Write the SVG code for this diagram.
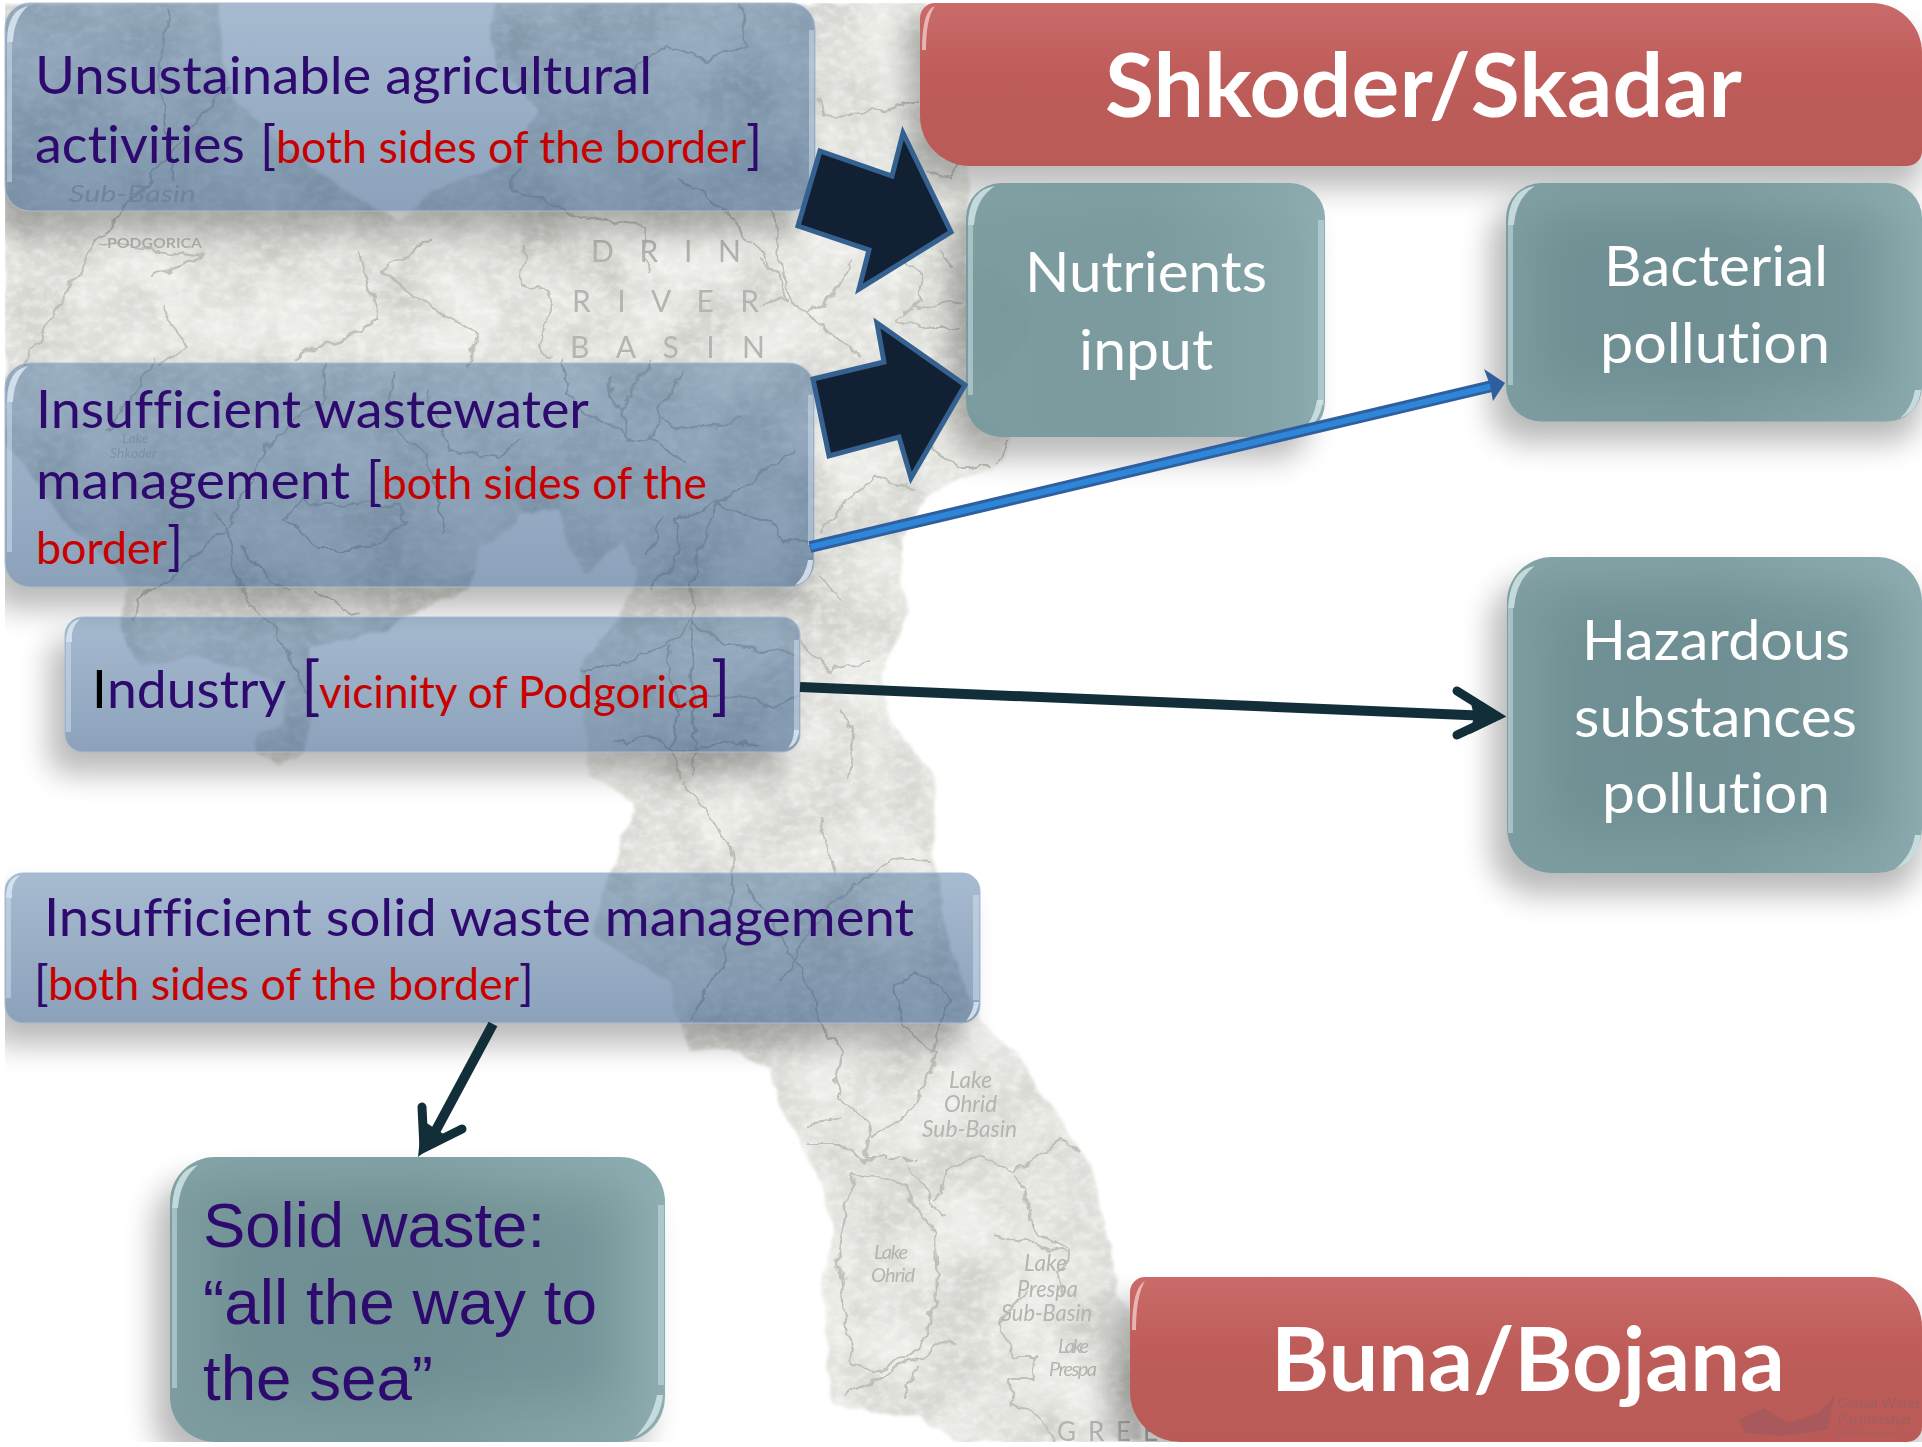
<svg xmlns="http://www.w3.org/2000/svg" width="1922" height="1447" viewBox="0 0 1922 1447">
<style>
text{font-variant-ligatures:none}
.t{font-family:Lato,"Open Sans","Liberation Sans",sans-serif}
.p{fill:#2e0a6e;font-size:53px}
.r{fill:#c80000;font-size:45px}
.w{fill:#fff;font-size:56px}
.h{fill:#fff;font-size:88px;font-weight:700}
.a{font-family:"Liberation Sans",Arial,sans-serif;fill:#2e0a6e;font-size:63px}
.riv{fill:none;stroke:#b9b9b4;stroke-width:2.2;stroke-linejoin:round;stroke-linecap:round;opacity:.85}
.m{font-family:Lato,"Liberation Sans",sans-serif;fill:#b4b4b0}
.mi{font-style:italic;font-size:24px;fill:#c2c2be}
.blue{fill:url(#gb);stroke:#a9bad2;stroke-width:1}
.teal{fill:url(#gt)}
.red{fill:url(#gr)}
.sh{fill:#000;opacity:.27;filter:url(#bl)}
.inner{fill:#5f8085;opacity:.42;filter:url(#bl2)}
.glb{fill:#dbe7f4;opacity:.85}
.glt{fill:#d5e7ea;opacity:.8}
.stb{fill:#d3e1f0;opacity:.5}
.stt{fill:#c9e0e3;opacity:.55}
.blk{fill:#122033;stroke:#34618f;stroke-width:5;stroke-linejoin:miter;stroke-miterlimit:8}
.dk{fill:none;stroke:#122e38;stroke-width:10;stroke-linecap:butt}
.bar{fill:none;stroke:#122e38;stroke-width:9;stroke-linecap:round}
</style>
<defs>
<linearGradient id="gb" x1="0" y1="0" x2="0" y2="1"><stop offset="0" stop-color="#104680" stop-opacity=".37"/><stop offset="1" stop-color="#0e3d70" stop-opacity=".48"/></linearGradient>
<linearGradient id="gt" x1="0" y1="0" x2="1" y2="0"><stop offset="0" stop-color="#76999d" stop-opacity=".9"/><stop offset=".5" stop-color="#74979b" stop-opacity=".9"/><stop offset="1" stop-color="#85a7ab" stop-opacity=".93"/></linearGradient>
<linearGradient id="gr" x1="0" y1="0" x2="0" y2="1"><stop offset="0" stop-color="#cb6b69"/><stop offset=".45" stop-color="#bd5c59"/><stop offset="1" stop-color="#ba5b58"/></linearGradient>
<filter id="bl" x="-20%" y="-30%" width="140%" height="160%"><feGaussianBlur stdDeviation="15"/></filter>
<filter id="bl2" x="-30%" y="-30%" width="160%" height="160%"><feGaussianBlur stdDeviation="24"/></filter>
<filter id="wob" x="-3%" y="-3%" width="106%" height="106%"><feTurbulence type="fractalNoise" baseFrequency=".045" numOctaves="3" seed="5" result="n"/><feDisplacementMap in="SourceGraphic" in2="n" scale="16" xChannelSelector="R" yChannelSelector="G"/><feGaussianBlur stdDeviation=".7"/></filter>
<filter id="lab" x="-10%" y="-30%" width="120%" height="160%"><feGaussianBlur stdDeviation=".7"/></filter>
<filter id="mapf" x="-2%" y="-2%" width="104%" height="104%" color-interpolation-filters="sRGB">
<feTurbulence type="fractalNoise" baseFrequency=".04" numOctaves="3" seed="3" result="n"/>
<feDisplacementMap in="SourceGraphic" in2="n" scale="10" xChannelSelector="R" yChannelSelector="G" result="d"/>
<feGaussianBlur in="d" stdDeviation="1.5" result="s"/>
<feTurbulence type="fractalNoise" baseFrequency=".014" numOctaves="4" seed="7"/>
<feColorMatrix type="matrix" values="0 0 0 0 .6 0 0 0 0 .6 0 0 0 0 .58 .7 0 0 0 -.22" result="m"/>
<feTurbulence type="fractalNoise" baseFrequency=".09 .12" numOctaves="3" seed="11"/>
<feColorMatrix type="matrix" values="0 0 0 0 1 0 0 0 0 1 0 0 0 0 .99 1 0 0 0 -.4" result="w"/>
<feMerge result="tex"><feMergeNode in="m"/><feMergeNode in="w"/></feMerge>
<feComposite in="tex" in2="s" operator="in" result="t2"/>
<feMerge><feMergeNode in="s"/><feMergeNode in="t2"/></feMerge>
</filter>
<path id="silp" d="M5,3 L220,3 L222,60 L235,100 L290,150 L350,195 L398,222 L420,200 L450,185 L500,165 L520,140 L540,110 L500,70 L490,30 L495,3 L925,3 L968,100 L968,262 L1000,272 L1033,307 L1027,340 L1000,370 L973,393 L970,410 L985,425 L1010,437 L1008,455 L993,467 L960,480 L927,497 L923,503 L903,537 L900,573 L908,613 L893,643 L882,670 L890,720 L910,747 L935,780 L933,857 L950,950 L978,1019 L1017,1053 L1038,1088 L1067,1130 L1089,1165 L1103,1216 L1117,1293 L1135,1320 L1140,1442 L960,1442 L917,1417 L831,1406 L828,1348 L821,1280 L835,1233 L821,1186 L803,1147 L781,1113 L771,1070 L731,1049 L689,1051 L667,981 L592,934 L606,883 L631,818 L631,801 L596,780 L590,777 L587,727 L580,667 L620,617 L637,580 L623,540 L603,557 L587,573 L570,553 L557,510 L523,513 L517,523 L480,547 L470,590 L400,617 L387,630 L310,647 L310,727 L303,753 L277,763 L257,750 L257,733 L283,727 L283,693 L267,677 L200,657 L143,667 L125,645 L120,620 L127,593 L130,587 L110,560 L67,527 L17,457 L5,440 Z"/>
<clipPath id="page"><rect x="5" y="3" width="1917" height="1439"/></clipPath>
<clipPath id="sil"><use href="#silp"/></clipPath>
<clipPath id="xb1"><path clip-rule="evenodd" d="M0,0H1922V1447H0Z M30,3H790A25,25 0 0 1 815,28V186A25,25 0 0 1 790,211H30A25,25 0 0 1 5,186V28A25,25 0 0 1 30,3Z"/></clipPath>
<clipPath id="xb2"><path clip-rule="evenodd" d="M0,0H1922V1447H0Z M30,363H789A25,25 0 0 1 814,388V562A25,25 0 0 1 789,587H30A25,25 0 0 1 5,562V388A25,25 0 0 1 30,363Z"/></clipPath>
<clipPath id="xb3"><path clip-rule="evenodd" d="M0,0H1922V1447H0Z M83,617H782A18,18 0 0 1 800,635V734A18,18 0 0 1 782,752H83A18,18 0 0 1 65,734V635A18,18 0 0 1 83,617Z"/></clipPath>
<clipPath id="xb4"><path clip-rule="evenodd" d="M0,0H1922V1447H0Z M23,873H962A18,18 0 0 1 980,891V1005A18,18 0 0 1 962,1023H23A18,18 0 0 1 5,1005V891A18,18 0 0 1 23,873Z"/></clipPath>
</defs>
<rect width="1922" height="1447" fill="#fff"/>
<g id="map">
<g clip-path="url(#page)"><use href="#silp" fill="#ecece8" filter="url(#mapf)"/></g>
<g clip-path="url(#sil)">
<g filter="url(#wob)">
<path d="M853,1175 L881,1177 L903,1190 L921,1212 L935,1233 L937,1293 L924,1336 L906,1359 L874,1372 L853,1365 L846,1327 L839,1250 Z" fill="#f0f0ec" class="riv"/>
<g class="riv">
<path d="M685,780 L731,848 L735,878 L721,964 L692,1019"/>
<path d="M746,883 L810,989 L817,1019 L842,1053 L835,1079 L846,1105 L867,1122 L871,1143 L864,1160"/>
<path d="M872,1135 L910,1109 L931,1075 L935,1053 L903,1028 L896,985 L917,972 L953,1002 L931,1053"/>
<path d="M935,1199 L949,1169 L981,1156 L1014,1169 L1060,1143 L1089,1156"/>
<path d="M910,1165 L931,1203 L942,1212"/>
<path d="M856,1158 L917,1158" stroke-dasharray="8 4"/>
<path d="M1014,1173 L1035,1233 L1067,1250 L1060,1293"/>
<path d="M996,1233 L1024,1241 L1067,1254"/>
<path d="M1024,1293 L999,1323 L1010,1357 L1039,1357 L1031,1378 L1010,1378 L1014,1408 L1035,1412 L1053,1442"/>
<path d="M810,1122 L839,1118 M806,1143 L839,1143 L864,1160"/>
<path d="M953,1340 L910,1361 L846,1395 M906,1395 L917,1365"/>
<path d="M821,818 L835,874 M931,861 L892,857 L828,908 L780,980"/>
<path d="M693,777 L693,620 L693,567 L713,517 L720,503 L793,450"/>
<path d="M690,620 L667,643 L613,667 L580,667"/>
<path d="M693,623 L720,643 L797,653"/>
<path d="M667,647 L677,710 L673,743 L680,777"/>
<path d="M613,743 L647,737 L687,750 L727,737 L757,747"/>
<path d="M677,707 L720,693 L773,707 L797,700"/>
<path d="M720,500 L680,520 L680,553 L653,587"/>
<path d="M663,517 L647,553"/>
<path d="M720,503 L743,517 L773,523 L783,543 L805,540"/>
<path d="M653,360 L620,407 L630,437 L647,440 L683,460"/>
<path d="M607,377 L620,407 M683,370 L660,410 L647,440"/>
<path d="M660,417 L683,430 L740,420"/>
<path d="M630,437 L593,417 L563,393 L563,360"/>
<path d="M820,533 L847,503 L873,477 L893,483 L913,490"/>
<path d="M800,640 L830,670 L870,660 M840,710 L857,743 L847,777 M820,577 L840,600"/>
<path d="M283,520 L307,503 L400,507 L407,520 L367,547 L317,547 Z"/>
<path d="M213,513 L227,530 L160,587 L137,600 L133,620"/>
<path d="M227,530 L240,587 L253,610 L277,627 L283,647 L307,693"/>
<path d="M153,360 L140,387 L107,430"/>
<path d="M327,363 L323,400 L267,443 L230,527"/>
<path d="M290,590 L267,577 L240,547 M313,590 L333,600 L360,613"/>
<path d="M390,373 L393,420 L427,457 L443,533"/>
<path d="M427,393 L450,447 L500,457 L520,440"/>
<path d="M773,213 L783,277 L800,307 L833,337 L860,357"/>
<path d="M760,260 L777,273 L787,297 M853,260 L837,293 L810,313 M760,307 L790,297"/>
<path d="M907,263 L923,277 L923,300 L897,320 L927,327 L963,327 M907,310 L963,300 M937,250 L953,267"/>
<path d="M933,447 L960,467 L993,467 L1010,440"/>
<path d="M817,100 L827,117 L893,110 L917,100 M927,170 L950,177 L963,163"/>
<path d="M520,165 L508,184 L576,216 L643,225 L649,271"/>
<path d="M680,179 L735,220 L778,275"/>
<path d="M741,5 L747,46 L710,60 L667,46 L612,78"/>
<path d="M227,87 L98,239 L49,321 L24,367"/>
<path d="M153,275 L208,257 L104,243"/>
<path d="M429,239 L380,271 L447,317 L478,331 L465,367"/>
<path d="M527,243 L520,285 L551,294 L539,344 L551,358"/>
<path d="M361,253 L380,321 L294,358"/>
<path d="M165,303 L184,349 L159,367"/>
<path d="M171,9 L159,60 L172,180"/>
</g>
</g>
</g>
<g filter="url(#lab)">
<text class="m" x="107" y="248" font-size="13" font-weight="700" textLength="95" lengthAdjust="spacingAndGlyphs">PODGORICA</text>
<text class="m mi" x="69" y="202" textLength="127" style="fill:#c4c4c0" lengthAdjust="spacingAndGlyphs">Sub-Basin</text>
<text class="m" x="591" y="262" font-size="30" textLength="150">D R I N</text>
<text class="m" x="572" y="312" font-size="30" textLength="187">R I V E R</text>
<text class="m" x="570" y="358" font-size="30" textLength="195">B A S I N</text>
<text class="m" x="949" y="1088" font-size="24" font-style="italic" textLength="43" lengthAdjust="spacingAndGlyphs">Lake</text>
<text class="m" x="944" y="1112" font-size="24" font-style="italic" textLength="53" lengthAdjust="spacingAndGlyphs">Ohrid</text>
<text class="m" x="922" y="1137" font-size="24" font-style="italic" textLength="95" lengthAdjust="spacingAndGlyphs">Sub-Basin</text>
<text class="m" x="874" y="1259" font-size="20" font-style="italic" textLength="34">Lake</text>
<text class="m" x="871" y="1282" font-size="20" font-style="italic" textLength="44">Ohrid</text>
<text class="m" x="1024" y="1271" font-size="24" font-style="italic" textLength="43" lengthAdjust="spacingAndGlyphs">Lake</text>
<text class="m" x="1017" y="1297" font-size="24" font-style="italic" textLength="61" lengthAdjust="spacingAndGlyphs">Prespa</text>
<text class="m" x="1001" y="1321" font-size="24" font-style="italic" textLength="91" lengthAdjust="spacingAndGlyphs">Sub-Basin</text>
<text class="m" x="1058" y="1353" font-size="20" font-style="italic" textLength="31">Lake</text>
<text class="m" x="1049" y="1376" font-size="20" font-style="italic" textLength="48">Prespa</text>
<text class="m" x="1057" y="1441" font-size="26" textLength="101">G R E E</text>
<text class="m" x="122" y="443" font-size="14" font-style="italic" style="fill:#c8c8c4">Lake</text>
<text class="m" x="110" y="458" font-size="14" font-style="italic" style="fill:#c8c8c4">Shkoder</text>
</g>
</g>

<g id="node-shkoder">
<g clip-path="url(#page)"><path class="sh" d="M916,25H1872A50,50 0 0 1 1922,75V175A15,15 0 0 1 1907,188H956A50,50 0 0 1 906,138V30Z"/></g>
<path class="red" d="M935,3H1872A50,50 0 0 1 1922,53V151A15,15 0 0 1 1907,166H970A50,50 0 0 1 920,116V18A15,15 0 0 1 935,3Z"/>
<path class="glt" style="fill:#f0c9c7" d="M922,50 Q922,10 935,6 Q926,18 926,50Z"/>
<text class="t h" x="1105" y="117" textLength="637" lengthAdjust="spacingAndGlyphs">Shkoder/Skadar</text>
</g>

<g id="node-unsustainable">
<g clip-path="url(#xb1)"><g clip-path="url(#page)"><rect class="sh" x="-11" y="25" width="810" height="208" rx="25"/></g></g>
<rect class="blue" x="5" y="3" width="810" height="208" rx="25"/>
<path class="glb" d="M7,42 Q7,10 28,6 Q14,18 13,42Z"/>
<rect class="stb" x="7" y="42" width="5" height="140"/>
<rect class="stb" x="809" y="30" width="5" height="150"/>
<text class="t p" x="35" y="94" textLength="617" lengthAdjust="spacingAndGlyphs">Unsustainable agricultural</text>
<text class="t p" x="35" y="163" textLength="210" lengthAdjust="spacingAndGlyphs">activities</text>
<text class="t p" x="260" y="163">[</text>
<text class="t r" x="276" y="163" textLength="470" lengthAdjust="spacingAndGlyphs">both sides of the border</text>
<text class="t p" x="746" y="163">]</text>
</g>

<g id="node-wastewater">
<g clip-path="url(#xb2)"><g clip-path="url(#page)"><rect class="sh" x="-11" y="385" width="809" height="224" rx="25"/></g></g>
<rect class="blue" x="5" y="363" width="809" height="224" rx="25"/>
<path class="glb" d="M7,402 Q7,370 28,366 Q14,378 13,402Z"/>
<rect class="stb" x="7" y="402" width="5" height="150"/>
<rect class="stb" x="808" y="395" width="5" height="150"/>
<path class="glb" d="M813,560 Q812,582 795,585 Q806,575 808,560Z"/>
<text class="t p" x="36" y="428" textLength="553" lengthAdjust="spacingAndGlyphs">Insufficient wastewater</text>
<text class="t p" x="36" y="499" textLength="314" lengthAdjust="spacingAndGlyphs">management</text>
<text class="t p" x="366" y="499">[</text>
<text class="t r" x="382" y="499" textLength="325" lengthAdjust="spacingAndGlyphs">both sides of the</text>
<text class="t r" x="36" y="564" textLength="131" lengthAdjust="spacingAndGlyphs">border</text>
<text class="t p" x="167" y="564">]</text>
</g>

<g id="node-industry">
<g clip-path="url(#xb3)"><rect class="sh" x="49" y="639" width="735" height="135" rx="18"/></g>
<rect class="blue" x="65" y="617" width="735" height="135" rx="18"/>
<path class="glb" d="M66,642 Q66,622 80,619 Q70,628 72,642Z"/>
<rect class="stb" x="66" y="642" width="5" height="90"/>
<rect class="stb" x="794" y="640" width="5" height="95"/>
<path class="glb" d="M799,730 Q798,745 788,748 Q794,740 794,730Z"/>
<text class="t" x="92" y="708" style="font-size:53px;fill:#000">I</text>
<text class="t p" x="107" y="708" textLength="179" lengthAdjust="spacingAndGlyphs">ndustry</text>
<text class="t p" style="font-size:64px" x="301" y="708">[</text>
<text class="t r" x="319" y="708" textLength="391" lengthAdjust="spacingAndGlyphs">vicinity of Podgorica</text>
<text class="t p" style="font-size:64px" x="711" y="708">]</text>
</g>

<g id="node-solidmgmt">
<g clip-path="url(#xb4)"><g clip-path="url(#page)"><rect class="sh" x="-11" y="895" width="975" height="150" rx="18"/></g></g>
<rect class="blue" x="5" y="873" width="975" height="150" rx="18"/>
<path class="glb" d="M6,898 Q6,878 20,875 Q10,884 12,898Z"/>
<rect class="stb" x="6" y="898" width="5" height="100"/>
<rect class="stb" x="973" y="895" width="6" height="105"/>
<path class="glb" d="M979,1002 Q977,1018 966,1021 Q973,1012 974,1002Z"/>
<text class="t p" x="44" y="936" textLength="870" lengthAdjust="spacingAndGlyphs">Insufficient solid waste management</text>
<text class="t p" style="font-size:48px" x="34" y="1000">[</text>
<text class="t r" x="48" y="1000" textLength="471" lengthAdjust="spacingAndGlyphs">both sides of the border</text>
<text class="t p" style="font-size:48px" x="519" y="1000">]</text>
</g>

<g id="node-nutrients">
<rect class="sh" x="950" y="205" width="359" height="254" rx="35"/>
<rect class="teal" x="966" y="183" width="359" height="254" rx="35"/>
<path class="glt" d="M968,225 Q968,190 995,186 Q976,198 974,225Z"/>
<rect class="stt" x="968" y="225" width="5" height="170"/>
<rect class="stt" x="1318" y="220" width="6" height="185"/>
<path class="glt" d="M1323,400 Q1320,425 1300,434 Q1314,420 1317,400Z"/>
<text class="t w" x="1025" y="292" textLength="242" lengthAdjust="spacingAndGlyphs">Nutrients</text>
<text class="t w" x="1079" y="370" textLength="134" lengthAdjust="spacingAndGlyphs">input</text>
</g>

<g id="node-bacterial">
<rect class="sh" x="1490" y="205" width="432" height="238" rx="35"/>
<rect class="teal" x="1506" y="183" width="416" height="238.500" rx="35"/>
<rect class="inner" x="1540" y="215" width="340" height="175"/>
<path class="glt" d="M1508,225 Q1508,190 1535,186 Q1516,198 1514,225Z"/>
<rect class="stt" x="1508" y="225" width="5" height="160"/>
<path class="glt" d="M1921,390 Q1918,412 1900,418 Q1912,408 1915,390Z"/>
<text class="t w" x="1604" y="286" textLength="224" lengthAdjust="spacingAndGlyphs">Bacterial</text>
<text class="t w" x="1600" y="363" textLength="230" lengthAdjust="spacingAndGlyphs">pollution</text>
</g>

<g id="node-hazardous">
<rect class="sh" x="1491" y="579" width="431" height="316" rx="45"/>
<rect class="teal" x="1507" y="557" width="415" height="316" rx="45"/>
<rect class="inner" x="1550" y="600" width="330" height="235"/>
<path class="glt" d="M1508,608 Q1510,570 1535,566 Q1516,580 1514,608Z"/>
<rect class="stt" x="1508" y="608" width="5" height="225"/>
<path class="glt" d="M1921,835 Q1918,860 1895,869 Q1912,855 1915,835Z"/>
<text class="t w" x="1582" y="660" textLength="268" lengthAdjust="spacingAndGlyphs">Hazardous</text>
<text class="t w" x="1574" y="737" textLength="283" lengthAdjust="spacingAndGlyphs">substances</text>
<text class="t w" x="1602" y="813" textLength="228" lengthAdjust="spacingAndGlyphs">pollution</text>
</g>

<g id="node-solidwaste">
<g clip-path="url(#page)"><rect class="sh" x="154" y="1179" width="495" height="285" rx="45"/></g>
<rect class="teal" x="170" y="1157" width="495" height="285" rx="45"/>
<rect class="inner" x="215" y="1200" width="400" height="200"/>
<path class="glt" d="M172,1208 Q174,1170 198,1165 Q180,1180 178,1208Z"/>
<rect class="stt" x="172" y="1208" width="5" height="180"/>
<rect class="stt" x="658" y="1205" width="6" height="180"/>
<path class="glt" d="M663,1395 Q660,1425 635,1437 Q652,1420 657,1395Z"/>
<text class="a" x="203" y="1247" textLength="342" lengthAdjust="spacingAndGlyphs">Solid waste:</text>
<text class="a" x="203" y="1324" textLength="394" lengthAdjust="spacingAndGlyphs">“all the way to</text>
<text class="a" x="203" y="1400" textLength="230" lengthAdjust="spacingAndGlyphs">the sea”</text>
</g>

<g id="node-buna">
<g clip-path="url(#page)"><path class="sh" d="M1120,1300H1872A50,50 0 0 1 1922,1350V1460H1160A50,50 0 0 1 1110,1410V1310Z"/></g>
<path class="red" d="M1145,1277H1872A50,50 0 0 1 1922,1327V1427A15,15 0 0 1 1907,1442H1182A50,50 0 0 1 1130,1392V1292A15,15 0 0 1 1145,1277Z"/>
<path class="glt" style="fill:#f0c9c7" d="M1132,1330 Q1132,1288 1145,1281 Q1136,1296 1136,1330Z"/>
<text class="t h" x="1271" y="1391" textLength="514" lengthAdjust="spacingAndGlyphs">Buna/Bojana</text>
<path id="gwp-logo" d="M1739,1420 L1764,1408 L1788,1423 L1819,1413 L1834,1396 L1828,1430 L1782,1436 L1745,1433Z" fill="#a9595c"/>
<text class="t" x="1837" y="1408" style="font-size:14px;fill:#a35e5e" textLength="83" lengthAdjust="spacingAndGlyphs">Global Water</text>
<text class="t" x="1837" y="1424" style="font-size:14px;fill:#a35e5e" textLength="73" lengthAdjust="spacingAndGlyphs">Partnership</text>
<text class="t" x="1837" y="1436" style="font-size:8px;fill:#a35e5e" textLength="57" lengthAdjust="spacingAndGlyphs">Mediterranean</text>
</g>

<g id="connectors">
<polygon class="blk" points="820,151 892,176 903,133 951,232 859,289 869,250 798,226"/>
<polygon class="blk" points="813,379 884,362 877,323 965,385 911,478 899,437 829,456"/>
<path d="M810,547 L1492,386" stroke="#2f5f9e" stroke-width="12" fill="none"/>
<path d="M811,546.800 L1497,385" stroke="#2e86d8" stroke-width="6" fill="none"/>
<polygon points="1505,383 1484,369 1490,385 1493,401" fill="#2f5f9e"/>
<path class="dk" d="M800,687 L1490,716"/>
<path class="bar" d="M1457,691 L1497,716 L1457,735"/>
<polygon points="1505,717 1470,699 1474,716 1470,734" fill="#122e38"/>
<path class="dk" d="M493,1024 L428,1145"/>
<path class="bar" d="M422,1107 L424,1148 L462,1129"/>
<polygon points="418,1157 422,1120 445,1135" fill="#122e38"/>
</g>
</svg>
